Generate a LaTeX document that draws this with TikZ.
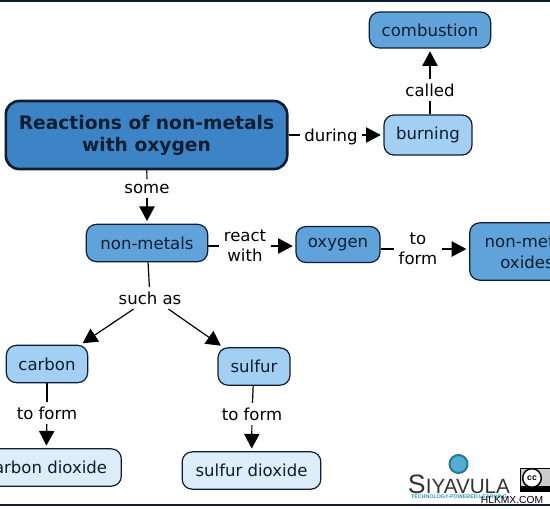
\documentclass[tikz,border=0pt]{standalone}
\usepackage{fontspec}
\setmainfont{DejaVu Sans}
\newfontfamily\logofont{Liberation Sans}
\usetikzlibrary{arrows.meta}
\definecolor{cmdark}{RGB}{14,30,48}
\definecolor{cmmain}{RGB}{60,132,198}
\definecolor{cmmid}{RGB}{96,163,219}
\definecolor{cmlight}{RGB}{163,208,242}
\definecolor{cmpale}{RGB}{221,238,250}
\definecolor{cmlogo}{RGB}{44,150,196}
\tikzset{
  concept/.style={draw=cmdark,line width=0.9pt,rounded corners=7.5pt,align=center,
    text=cmdark,font=\fontsize{12.4}{16}\selectfont,inner sep=0pt},
  midbox/.style={concept,fill=cmmid},
  lightbox/.style={concept,fill=cmlight},
  palebox/.style={concept,fill=cmpale},
  linklabel/.style={align=center,text=black,font=\fontsize{12.4}{15}\selectfont,inner sep=2pt,outer sep=1.5pt},
  link/.style={draw=black,line width=0.9pt},
  linkto/.style={link,-{Triangle[width=11.5pt,length=11pt]},shorten >=2pt}
}
\begin{document}
\begin{tikzpicture}[x=0.75pt,y=-0.75pt]
  \clip (0,0) rectangle (550,508);
  \fill[white] (0,0) rectangle (550,508);
  \coordinate (topl) at (0,1);
  \coordinate (topr) at (550,1);
  \coordinate (botl) at (0,505);
  \coordinate (botr) at (550,505);
  \draw[cmdark,line width=1pt] (topl) -- (topr) (botl) -- (botr);
  % concepts
  \node[concept,fill=cmmain,line width=2pt,rounded corners=10pt,minimum width=211pt,minimum height=51pt,
    font=\fontsize{14}{18}\selectfont\bfseries] (main) at (146.5,135) {\raisebox{-1.5pt}{Reactions of non-metals}\\with oxygen};
  \node[midbox,minimum width=91pt,minimum height=27pt] (combustion) at (430,30) {combustion};
  \node[lightbox,minimum width=66pt,minimum height=30pt] (burning) at (428,135) {burning};
  \node[midbox,minimum width=91pt,minimum height=28pt] (nonmetals) at (147,243) {non-metals};
  \node[midbox,minimum width=63pt,minimum height=27pt] (oxygen) at (338,244.5) {oxygen};
  \node[midbox,minimum width=86pt,minimum height=43pt] (oxides) at (527,251.5) {non-metal\\oxides};
  \node[lightbox,minimum width=61pt,minimum height=28pt] (carbon) at (47,364) {carbon};
  \node[lightbox,minimum width=54pt,minimum height=28pt] (sulfur) at (254,366.5) {sulfur};
  \node[palebox,minimum width=113pt,minimum height=28pt] (carbondi) at (46,467.5) {carbon dioxide};
  \node[palebox,minimum width=104pt,minimum height=28pt] (sulfurdi) at (251.5,470.5) {sulfur dioxide};
  % link labels
  \node[linklabel] (some) at (147,188.5) {some};
  \node[linklabel] (during) at (331,136.5) {during};
  \node[linklabel] (called) at (430,90) {called};
  \node[linklabel] (reactwith) at (245,246) {react\\with};
  \node[linklabel] (toform) at (418,249) {to\\form};
  \node[linklabel] (suchas) at (150,298) {such as};
  \node[linklabel] (toformc) at (47,413) {to form};
  \node[linklabel] (toforms) at (252,414) {to form};
  % links
  \draw[link] (main) -- (some);
  \draw[linkto] (some) -- (nonmetals);
  \draw[link] (main.east) -- (main.east -| during.west);
  \draw[linkto] (during.east |- burning) -- (burning);
  \draw[link] (burning.north -| called) -- (called);
  \draw[linkto] (called) -- (combustion);
  \draw[link] (nonmetals.east |- reactwith) -- (reactwith);
  \draw[linkto] (reactwith) -- (reactwith -| oxygen.west);
  \draw[link] (oxygen.east |- toform) -- (toform);
  \draw[linkto] (toform) -- (toform -| oxides.west);
  \draw[link] (nonmetals) -- (suchas);
  \draw[linkto] (suchas.214) -- (carbon.30);
  \draw[linkto] (suchas.-31) -- (sulfur.148);
  \draw[link] (carbon) -- (toformc);
  \draw[linkto] (toformc) -- (carbondi);
  \draw[link] (sulfur) -- (toforms);
  \draw[linkto] (toforms) -- (sulfurdi);
  % logo
  \node[circle,draw=cmlogo!80!black,fill=cmlogo!80,line width=1.5pt,minimum size=13.5pt,inner sep=0pt] (ring) at (458.5,464) {};
  \node[inner sep=0pt,text=black!80,font=\logofont\fontsize{20}{20}\selectfont] (siyavula) at (459,484.5)
    {S{\fontsize{15.5}{15.5}\selectfont IYAVULA}};
  \node[inner sep=0pt,text=cmlogo,font=\logofont\bfseries\fontsize{4}{4}\selectfont] (tagline) at (459,497)
    {TECHNOLOGY-POWERED LEARNING};
  \path[fill=black] (520,468) rectangle (550,492);
  \path[fill=black!20] (520.7,468.7) rectangle (550,486);
  \node[circle,draw=black,fill=white,line width=1.1pt,minimum size=14pt,inner sep=0pt,
    font=\logofont\bfseries\fontsize{6.5}{6.5}\selectfont] (cc) at (532,478) {cc};
  \node[inner sep=0pt,text=black,font=\logofont\fontsize{7.7}{8}\selectfont] (mark) at (512,500) {HLKMX.COM};
\end{tikzpicture}
\end{document}
